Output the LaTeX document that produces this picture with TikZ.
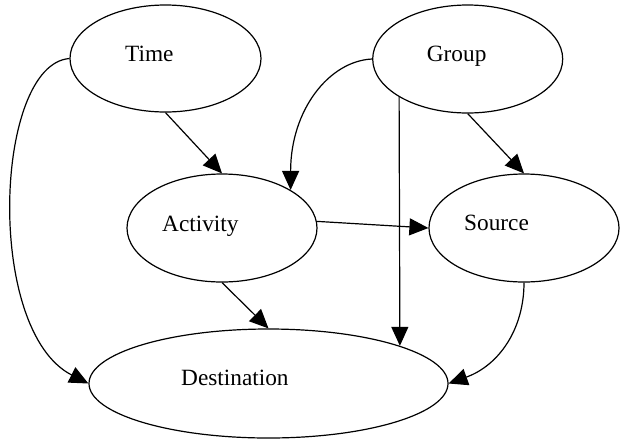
\documentclass[tikz,border=0pt]{standalone}
\usepackage{fontspec}
\setmainfont{Liberation Serif}
\usetikzlibrary{shapes.geometric,arrows.meta}
\begin{document}
\begin{tikzpicture}[x=1pt,y=-1pt,
  every node/.style={font=\fontsize{23.3}{28}\selectfont},
  ell/.style={draw=black, line width=1.2pt, ellipse, inner sep=0pt},
  lbl/.style={anchor=base west, inner sep=0pt},
  conn/.style={draw=black, line width=1.2pt, -{Triangle[length=19pt,width=17pt]}}]
\useasboundingbox (0,0) rectangle (623,440);
\node[ell, minimum width=191pt, minimum height=107pt] (time) at (165.5,58.5) {};
\node[ell, minimum width=190pt, minimum height=108pt] (group) at (467.7,59) {};
\node[ell, minimum width=190pt, minimum height=108pt] (act) at (222,228) {};
\node[ell, minimum width=190pt, minimum height=108pt] (src) at (524,228) {};
\node[ell, minimum width=359pt, minimum height=109pt] (dest) at (268.5,383.5) {};
\node[lbl] (timelbl) at (125,61.7) {Time};
\node[lbl] (grouplbl) at (426.7,61.7) {Group};
\node[lbl] (actlbl) at (162,231.7) {Activity};
\node[lbl] (srclbl) at (464,230.7) {Source};
\node[lbl] (destlbl) at (181,385) {Destination};
\draw[conn] (time.south) -- (act.north);
\draw[conn] (group.south) -- (src.north);
\draw[conn] (act.south) -- (dest.north);
\draw[conn] (act.4) -- (src.west);
\draw[conn] (group.209.6) -- (dest.16.8);
\draw[conn] (group.west) .. controls +(-43,2) and +(0,-80) .. (act.29.2);
\draw[conn] (time.west) .. controls +(-75,6) and +(-104,-53) .. (dest.west);
\draw[conn] (src.south) .. controls +(0,47) and +(50,-18) .. (dest.east);
\end{tikzpicture}
\end{document}
